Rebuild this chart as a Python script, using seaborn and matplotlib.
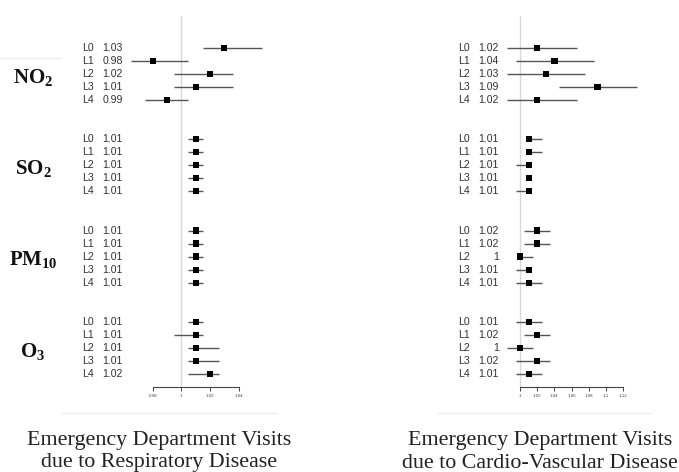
import numpy as np
import pandas as pd
import matplotlib
matplotlib.use("Agg")
import matplotlib.pyplot as plt
import seaborn as sns

# ---- data ----
pollutants = [r"$\mathbf{NO}_{\mathbf{2}}$", r"$\mathbf{SO}_{\mathbf{2}}$",
              r"$\mathbf{PM}_{\mathbf{10}}$", r"$\mathbf{O}_{\mathbf{3}}$"]
lags = ["L0", "L1", "L2", "L3", "L4"]

resp_est = [1.030, 0.980, 1.020, 1.010, 0.990,
            1.010, 1.010, 1.010, 1.010, 1.010,
            1.010, 1.010, 1.010, 1.010, 1.010,
            1.010, 1.010, 1.010, 1.010, 1.020]
resp_lo = [1.015, 0.965, 0.995, 0.995, 0.975,
           1.005, 1.005, 1.005, 1.005, 1.005,
           1.005, 1.005, 1.005, 1.005, 1.005,
           1.005, 0.995, 1.005, 1.005, 1.005]
resp_hi = [1.056, 1.005, 1.036, 1.036, 1.005,
           1.015, 1.015, 1.015, 1.015, 1.015,
           1.015, 1.015, 1.015, 1.015, 1.015,
           1.015, 1.015, 1.026, 1.026, 1.026]

cvd_est = [1.020, 1.040, 1.030, 1.090, 1.020,
           1.010, 1.010, 1.010, 1.010, 1.010,
           1.020, 1.020, 1.000, 1.010, 1.010,
           1.010, 1.020, 1.000, 1.020, 1.010]
cvd_lo = [0.985, 0.995, 0.985, 1.045, 0.985,
          1.007, 1.007, 0.995, 1.007, 0.995,
          1.005, 1.005, 0.999, 0.995, 0.995,
          0.995, 1.005, 0.985, 0.995, 0.995]
cvd_hi = [1.066, 1.086, 1.076, 1.136, 1.066,
          1.025, 1.025, 1.013, 1.013, 1.013,
          1.035, 1.035, 1.015, 1.013, 1.025,
          1.025, 1.035, 1.015, 1.035, 1.025]

resp_ticks = [0.98, 1, 1.02, 1.04]
cvd_ticks = [1, 1.02, 1.04, 1.06, 1.08, 1.1, 1.12]

captions = [["Emergency Department Visits", "due to Respiratory Disease"],
            ["Emergency Department Visits", "due to Cardio-Vascular Disease"]]

sns.set_style("white")
plt.rcParams["font.family"] = ["Liberation Sans", "DejaVu Sans"]
plt.rcParams["mathtext.fontset"] = "custom"
plt.rcParams["mathtext.bf"] = "Liberation Serif:bold"
plt.rcParams["mathtext.rm"] = "Liberation Serif"

W, H = 679, 472
fig = plt.figure(figsize=(W / 100, H / 100), dpi=100)
fig.patch.set_facecolor("white")

# row index: 5 lags per pollutant, 2 empty rows between groups
rows = [g * 7 + l for g in range(len(pollutants)) for l in range(len(lags))]
lag_col = lags * len(pollutants)


def fmt(v):
    return f"{v:.2f}".rstrip("0").rstrip(".")


def forest(ax, est, lo, hi, ticks, lab_x, val_x):
    df = pd.DataFrame({"row": rows, "est": est, "lo": lo, "hi": hi, "lag": lag_col})
    ax.axvline(1, color="#d9d9d9", lw=1.0, zorder=0)
    ax.hlines(df["row"], df["lo"], df["hi"], color="#555555", lw=1.0, zorder=1)
    sns.scatterplot(data=df, x="est", y="row", marker="s", color="black",
                    s=20, edgecolor="none", legend=False, ax=ax, zorder=2)
    tr = ax.get_yaxis_transform()
    for r, lg, e in zip(df["row"], df["lag"], df["est"]):
        ax.text(lab_x, r, lg, transform=tr, ha="left", va="center",
                fontsize=7.6, color="#333333")
        ax.text(val_x, r, fmt(e), transform=tr, ha="right", va="center",
                fontsize=7.6, color="#333333")
    ax.set_ylim(26.0, -2.45)
    ax.set_yticks([])
    ax.set_xticks(ticks)
    ax.set_xticklabels([fmt(t) for t in ticks])
    ax.tick_params(axis="x", labelsize=3.2, length=3, width=0.7,
                   colors="#444444", pad=2, bottom=True)
    for s in ["top", "left", "right"]:
        ax.spines[s].set_visible(False)
    ax.spines["bottom"].set_bounds(ticks[0], ticks[-1])
    ax.spines["bottom"].set_color("#444444")
    ax.spines["bottom"].set_linewidth(0.8)
    ax.set_xlabel("")
    ax.set_ylabel("")
    ax.patch.set_alpha(0)


ax_bottom = (H - 387) / H
ax_h = (387 - 16) / H

# left panel: 1.00 at px 181.3, 1433 px per unit
ax1 = fig.add_axes([0, ax_bottom, 340 / W, ax_h])
forest(ax1, resp_est, resp_lo, resp_hi, resp_ticks, 82 / 340, 123 / 340)
ax1.set_xlim(1 - 181.3 / 1433, 1 + (340 - 181.3) / 1433)

# right panel: 1.00 at px 520, 861 px per unit
ax2 = fig.add_axes([340 / W, ax_bottom, 339 / W, ax_h])
forest(ax2, cvd_est, cvd_lo, cvd_hi, cvd_ticks, 118 / 339, 159 / 339)
ax2.set_xlim(1 - 180 / 861, 1 + 159 / 861)

# pollutant names
tr1 = ax1.get_yaxis_transform()
for g, name in enumerate(pollutants):
    ax1.text(33 / 340, g * 7 + 2.3, name, transform=tr1, ha="center",
             va="center", fontsize=15, color="#111111")

# faint separators
fig.add_artist(plt.Line2D([62 / W, 277 / W], [1 - 413 / H] * 2,
                          color="#eeeeee", lw=1))
fig.add_artist(plt.Line2D([437 / W, 652 / W], [1 - 413 / H] * 2,
                          color="#eeeeee", lw=1))
fig.add_artist(plt.Line2D([0, 61 / W], [1 - 58 / H] * 2,
                          color="#eeeeee", lw=1))

# captions
for cx, cap in zip([159, 540], captions):
    for ly, line in zip([440, 463], cap):
        fig.text(cx / W, 1 - ly / H, line, ha="center", va="center",
                 fontsize=15.8, family="Liberation Serif", color="#222222")

fig.savefig("out.png", dpi=100, facecolor="white")
